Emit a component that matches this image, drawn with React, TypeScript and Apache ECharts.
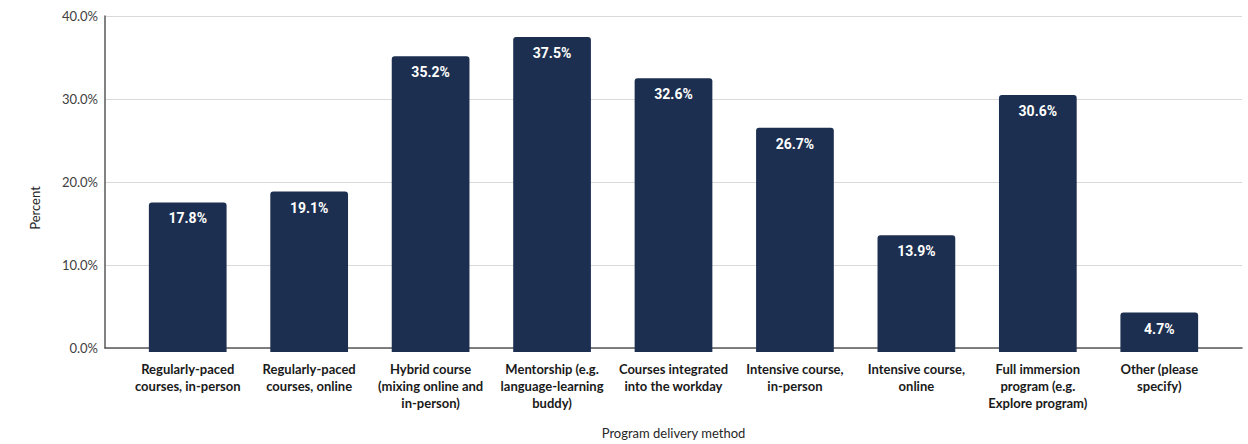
import React, { useEffect, useRef } from "react";
import * as echarts from "echarts";

const categories: string[] = [
  "Regularly-paced\ncourses, in-person",
  "Regularly-paced\ncourses, online",
  "Hybrid course\n(mixing online and\nin-person)",
  "Mentorship (e.g.\nlanguage-learning\nbuddy)",
  "Courses integrated\ninto the workday",
  "Intensive course,\nin-person",
  "Intensive course,\nonline",
  "Full immersion\nprogram (e.g.\nExplore program)",
  "Other (please\nspecify)",
];
const percentValues: number[] = [17.8, 19.1, 35.2, 37.5, 32.6, 26.7, 13.9, 30.6, 4.7];
const yTicks: number[] = [0, 10, 20, 30, 40];
const xAxisTitle = "Program delivery method";
const yAxisTitle = "Percent";

export default function App() {
  const ref = useRef<HTMLDivElement>(null);
  useEffect(() => {
    if (!ref.current) return;
    const chart = echarts.init(ref.current, null, { renderer: "svg" });
    const yMin = yTicks[0];
    const yMax = yTicks[yTicks.length - 1];
    const yInterval = yTicks[1] - yTicks[0];
    chart.setOption({
      animation: false,
      backgroundColor: "#ffffff",
      grid: [
        { left: 105, right: 6, top: 16, bottom: 92, containLabel: false },
        { left: 127, right: 28, top: 16, bottom: 92, containLabel: false },
      ],
      xAxis: [
        {
          gridIndex: 0,
          type: "value",
          min: 0,
          max: 1,
          axisLine: { show: true, onZero: false, lineStyle: { color: "#595959", width: 1.5 } },
          axisTick: { show: false },
          axisLabel: { show: false },
          splitLine: { show: false },
          name: xAxisTitle,
          nameLocation: "middle",
          nameGap: 78,
          nameTextStyle: {
            fontFamily: "Lato",
            fontSize: 13,
            color: "#262626",
            verticalAlign: "top",
          },
        },
        {
          gridIndex: 1,
          type: "category",
          data: categories,
          axisLine: { show: false },
          axisTick: { show: false },
          axisLabel: {
            interval: 0,
            margin: 8,
            fontFamily: "Lato",
            fontWeight: "bold",
            fontSize: 13,
            lineHeight: 17,
            color: "#1a1a1a",
            align: "center",
          },
        },
      ],
      yAxis: [
        {
          gridIndex: 0,
          type: "value",
          min: yMin,
          max: yMax,
          interval: yInterval,
          axisLine: { show: true, lineStyle: { color: "#595959", width: 1.5 } },
          axisTick: { show: false },
          axisLabel: {
            margin: 7,
            fontFamily: "Lato",
            fontSize: 13,
            color: "#404040",
            formatter: (v: number) => v.toFixed(1) + "%",
          },
          splitLine: { show: true, lineStyle: { color: "#d9d9d9", width: 1 } },
        },
        {
          gridIndex: 1,
          type: "value",
          min: yMin,
          max: yMax,
          interval: yInterval,
          show: false,
          splitLine: { show: false },
        },
      ],
      graphic: [
        {
          type: "text",
          x: 35,
          y: 208,
          rotation: Math.PI / 2,
          style: {
            text: yAxisTitle,
            fontFamily: "Lato",
            fontSize: 13,
            fill: "#262626",
            align: "center",
            verticalAlign: "middle",
          },
        },
      ],
      series: [
        {
          type: "bar",
          xAxisIndex: 1,
          yAxisIndex: 1,
          data: percentValues,
          barCategoryGap: "36%",
          itemStyle: { color: "#1c2f50", borderRadius: [3, 3, 0, 0] },
          label: {
            show: true,
            position: "insideTop",
            distance: 9,
            fontFamily: "Roboto",
            fontWeight: "bold",
            fontSize: 14,
            color: "#ffffff",
            formatter: (p: any) => Number(p.value).toFixed(1) + "%",
          },
        },
      ],
    });
    return () => chart.dispose();
  }, []);
  return (
    <div
      ref={ref}
      style={{ position: "fixed", left: 0, top: 0, width: 1248, height: 444 }}
    />
  );
}
